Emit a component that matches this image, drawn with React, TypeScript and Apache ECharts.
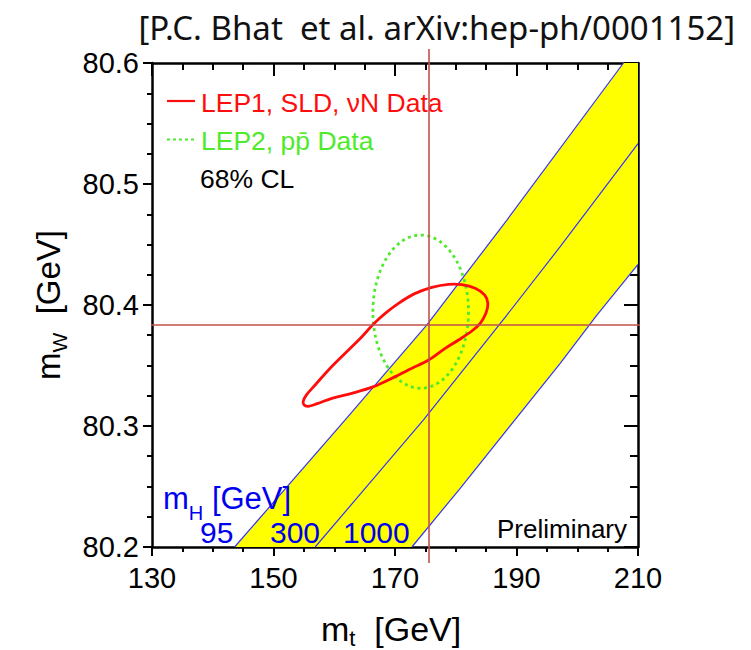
import React, { useEffect, useRef } from 'react';
import * as echarts from 'echarts';

// ---- axis ranges ----
const X_MIN = 130;
const X_MAX = 210;
const X_STEP = 20;
const Y_MIN = 80.2;
const Y_MAX = 80.6;
const Y_STEP = 0.1;

// ---- SM prediction lines (mt [GeV], mW [GeV]) for mH = 95, 300, 1000 GeV ----
const band95: number[][] = [
  [143.6, 80.2], [161.8, 80.305], [175.25, 80.3835], [188.42, 80.4702], [207.61, 80.6],
];
const band300: number[][] = [
  [156.86, 80.2], [174.69, 80.305], [188.42, 80.3917], [197.19, 80.4482], [210, 80.5333],
];
const band1000: number[][] = [
  [172.78, 80.2], [180.73, 80.2485], [197.19, 80.3518], [203.23, 80.3917], [210, 80.4335],
];
const bandCorner: number[][] = [[210, 80.6]];

// ---- LEP1, SLD, nuN 68% CL contour ----
const lepContour: number[][] = [
  [161.80, 80.3601], [164.55, 80.3738], [166.47, 80.3843], [168.39, 80.3931],
  [170.58, 80.4014], [173.33, 80.4096], [176.07, 80.4146], [178.81, 80.4171],
  [181.01, 80.4168], [183.20, 80.4138], [184.74, 80.4083], [185.29, 80.4014],
  [184.96, 80.3931], [184.03, 80.3849], [182.65, 80.3785], [180.46, 80.3711],
  [178.26, 80.3642], [175.52, 80.3545], [172.78, 80.3477], [170.03, 80.3408],
  [166.47, 80.3325], [162.90, 80.3270], [159.61, 80.3229], [157.2, 80.3185],
  [155.7, 80.3163], [155.0, 80.3176], [154.9, 80.3205], [155.4, 80.3255],
  [156.86, 80.3339], [159.06, 80.3463],
];

// ---- LEP2, ppbar direct measurement (centre and 68% CL half widths) ----
const directCenter: number[] = [174.23, 80.3945];
const directHalfWidths: number[] = [7.87, 0.0633];

// ---- cross-hair lines ----
const crossMt: number[][] = [[175.6, 80.6116], [175.6, 80.1868]];
const crossMw: number[][] = [[126.44, 80.3835], [213.5, 80.3835]];

// ---- texts ----
const titleText = '[P.C. Bhat  et al. arXiv:hep-ph/0001152]';
const legendLabels = ['LEP1, SLD, \u03bdN Data', 'LEP2, pp\u0304 Data', '68% CL'];
const higgsLabels = ['95', '300', '1000'];
const prelimText = 'Preliminary';

const FONT = "'Liberation Sans', Arial, Helvetica, sans-serif";
const RED = '#ff0d0d';
const GREEN = '#4fea2c';
const BLUE = '#3434ff';
const LABEL_BLUE = '#0000f0';
const CROSS = '#c0504d';

export default function App() {
  const ref = useRef<HTMLDivElement>(null);

  useEffect(() => {
    if (!ref.current) return;
    const chart = echarts.init(ref.current, undefined, { renderer: 'svg' });

    const bandPoly = [...band95, ...bandCorner, ...band1000.slice().reverse()];

    const axisLine = { show: true, onZero: false, lineStyle: { color: '#000', width: 2.5 } };
    const tickStyle = { color: '#000', width: 2 };

    const option: any = {
      animation: false,
      backgroundColor: '#fff',
      grid: { left: 152, right: 113, top: 63, bottom: 103, containLabel: false },
      xAxis: [
        {
          type: 'value', min: X_MIN, max: X_MAX, interval: X_STEP, position: 'bottom',
          axisLine, splitLine: { show: false },
          axisTick: { inside: false, length: 9, lineStyle: tickStyle },
          minorTick: { show: true, splitNumber: 4, length: 5, lineStyle: tickStyle },
          axisLabel: { fontSize: 29, fontFamily: FONT, color: '#000', margin: 16 },
        },
        {
          type: 'value', min: X_MIN, max: X_MAX, interval: X_STEP, position: 'top',
          axisLine, splitLine: { show: false },
          axisTick: { inside: true, length: 13, lineStyle: tickStyle },
          minorTick: { show: true, splitNumber: 4, length: 7, lineStyle: tickStyle },
          axisLabel: { show: false },
        },
      ],
      yAxis: [
        {
          type: 'value', min: Y_MIN, max: Y_MAX, interval: Y_STEP, position: 'left',
          axisLine, splitLine: { show: false },
          axisTick: { inside: false, length: 9, lineStyle: tickStyle },
          minorTick: { show: true, splitNumber: 4, length: 5, lineStyle: tickStyle },
          axisLabel: {
            fontSize: 29, fontFamily: FONT, color: '#000', margin: 13,
            formatter: (v: number) => v.toFixed(1),
          },
        },
        {
          type: 'value', min: Y_MIN, max: Y_MAX, interval: Y_STEP, position: 'right',
          axisLine, splitLine: { show: false },
          axisTick: { inside: true, length: 14, lineStyle: tickStyle },
          minorTick: { show: true, splitNumber: 4, length: 8, lineStyle: tickStyle },
          axisLabel: { show: false },
        },
      ],
      series: [
        {
          type: 'custom', name: 'band', xAxisIndex: 0, yAxisIndex: 0, clip: true, silent: true, z: 1,
          data: [[170, 80.4]],
          renderItem: (_p: any, api: any) => ({
            type: 'polygon',
            shape: { points: bandPoly.map((pt) => api.coord(pt)) },
            style: { fill: '#ffff00', stroke: 'none' },
          }),
        },
        ...[band95, band300, band1000].map((d) => ({
          type: 'line', xAxisIndex: 0, yAxisIndex: 0, data: d, symbol: 'none', silent: true, z: 2,
          lineStyle: { color: BLUE, width: 1.2 },
        })),
        {
          type: 'custom', name: 'LEP2', xAxisIndex: 0, yAxisIndex: 0, clip: true, silent: true, z: 3,
          data: [directCenter],
          renderItem: (_p: any, api: any) => {
            const c = api.coord(directCenter);
            const s = api.size(directHalfWidths);
            return {
              type: 'ellipse',
              shape: { cx: c[0], cy: c[1], rx: s[0], ry: s[1] },
              style: { fill: 'none', stroke: GREEN, lineWidth: 2.8, lineDash: [3, 3.6] },
            };
          },
        },
        {
          type: 'custom', name: 'LEP1', xAxisIndex: 0, yAxisIndex: 0, clip: true, silent: true, z: 4,
          data: [[170, 80.37]],
          renderItem: (_p: any, api: any) => ({
            type: 'polygon',
            shape: { points: lepContour.map((pt) => api.coord(pt)), smooth: 0.35 },
            style: { fill: 'none', stroke: RED, lineWidth: 2.8 },
          }),
        },
        ...[crossMt, crossMw].map((d) => ({
          type: 'line', xAxisIndex: 0, yAxisIndex: 0, data: d, symbol: 'none', clip: false, silent: true, z: 20,
          lineStyle: { color: CROSS, width: 1.6 },
        })),
      ],
      graphic: [
        {
          type: 'text', x: 735, y: 27, z: 5,
          style: { text: titleText, fontSize: 33, fontFamily: "'Noto Sans', 'Open Sans', sans-serif", fill: '#111', align: 'right', verticalAlign: 'middle' },
        },
        // axis titles
        {
          type: 'text', x: 321, y: 629, z: 5,
          style: {
            text: '{m|m}{s|t}{m|  [GeV]}', align: 'left', verticalAlign: 'middle',
            rich: {
              m: { fontSize: 34, fontFamily: FONT, fill: '#000' },
              s: { fontSize: 22, fontFamily: FONT, fill: '#000', padding: [18, 0, 0, 0] },
            },
          },
        },
        {
          type: 'text', x: 48, y: 305, rotation: Math.PI / 2, z: 5,
          style: {
            text: '{m|m}{s|W}{m|  [GeV]}', align: 'center', verticalAlign: 'middle',
            rich: {
              m: { fontSize: 33, fontFamily: FONT, fill: '#000' },
              s: { fontSize: 21, fontFamily: FONT, fill: '#000', padding: [22, 0, 0, 0] },
            },
          },
        },
        // legend
        { type: 'line', z: 5, shape: { x1: 167, y1: 101, x2: 195, y2: 101 }, style: { stroke: RED, lineWidth: 2.2 } },
        { type: 'line', z: 5, shape: { x1: 167, y1: 139.5, x2: 195, y2: 139.5 }, style: { stroke: GREEN, lineWidth: 2.2, lineDash: [3, 3] } },
        { type: 'text', x: 201, y: 102.7, z: 5, style: { text: legendLabels[0], fontSize: 26.5, fontFamily: FONT, fill: RED, align: 'left', verticalAlign: 'middle' } },
        { type: 'text', x: 201, y: 141, z: 5, style: { text: legendLabels[1], fontSize: 26.5, fontFamily: FONT, fill: GREEN, align: 'left', verticalAlign: 'middle' } },
        { type: 'text', x: 200, y: 179.3, z: 5, style: { text: legendLabels[2], fontSize: 26.5, fontFamily: FONT, fill: '#000', align: 'left', verticalAlign: 'middle' } },
        // Higgs mass labels
        {
          type: 'text', x: 163, y: 498, z: 5,
          style: {
            text: '{m|m}{s|H}{m| [GeV]}', align: 'left', verticalAlign: 'middle',
            rich: {
              m: { fontSize: 31, fontFamily: FONT, fill: LABEL_BLUE },
              s: { fontSize: 20, fontFamily: FONT, fill: LABEL_BLUE, padding: [30, 0, 0, 0] },
            },
          },
        },
        { type: 'text', x: 200, y: 532.9, z: 5, style: { text: higgsLabels[0], fontSize: 30, fontFamily: FONT, fill: LABEL_BLUE, align: 'left', verticalAlign: 'middle' } },
        { type: 'text', x: 270, y: 532.9, z: 5, style: { text: higgsLabels[1], fontSize: 30, fontFamily: FONT, fill: LABEL_BLUE, align: 'left', verticalAlign: 'middle' } },
        { type: 'text', x: 343, y: 532.9, z: 5, style: { text: higgsLabels[2], fontSize: 30, fontFamily: FONT, fill: LABEL_BLUE, align: 'left', verticalAlign: 'middle' } },
        { type: 'text', x: 627, y: 529.3, z: 5, style: { text: prelimText, fontSize: 26, fontFamily: FONT, fill: '#000', align: 'right', verticalAlign: 'middle' } },
      ],
    };

    chart.setOption(option);
    return () => chart.dispose();
  }, []);

  return (
    <div
      ref={ref}
      style={{ position: 'absolute', left: 0, top: 0, width: 751, height: 650, background: '#fff' }}
    />
  );
}
